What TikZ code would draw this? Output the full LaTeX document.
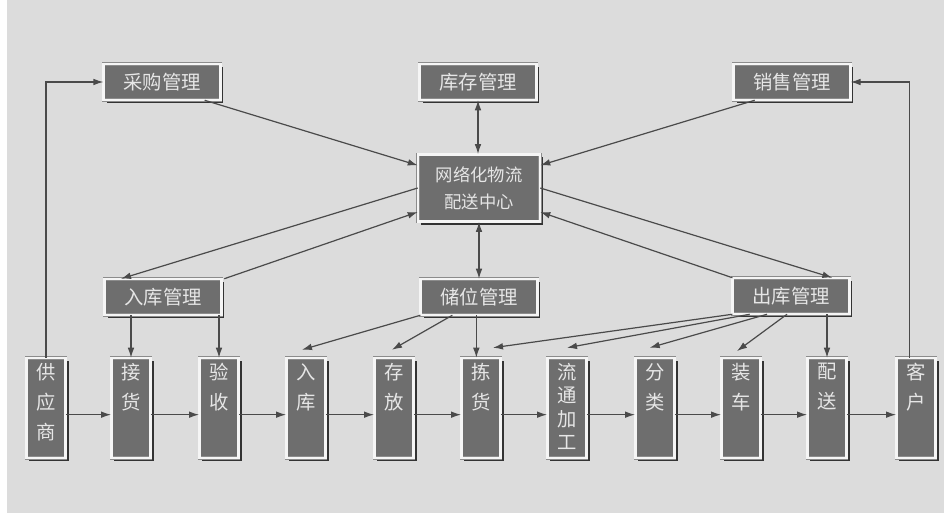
\documentclass[tikz,border=0pt]{standalone}
\usepackage{fontspec}
\newfontfamily\cjk{Noto Sans CJK SC}
\usetikzlibrary{arrows.meta,shadows}
\definecolor{bgcol}{HTML}{DCDCDC}
\definecolor{boxcol}{HTML}{6E6E6E}
\definecolor{txtcol}{HTML}{E6E6E6}
\definecolor{linecol}{HTML}{4A4A4A}
\tikzset{
  panel/.style={rectangle, fill=boxcol, draw=black!45, double=white!96!black,
    double distance=1.8pt, line width=0.4pt, text=txtcol,
    font=\cjk\fontsize{14.5}{17}\selectfont,
    drop shadow={shadow xshift=2.2pt, shadow yshift=-2.2pt, fill=black!80, opacity=1}},
  widebox/.style={panel, minimum width=87.5pt, minimum height=27pt, inner sep=0pt},
  hubbox/.style={panel, minimum width=91.5pt, minimum height=50.5pt, align=center,
    font=\cjk\fontsize{13}{20}\selectfont},
  tallbox/.style={panel, minimum width=29.5pt, minimum height=75pt, inner sep=0pt},
  flow/.style={draw=linecol, line width=0.9pt, -{Latex[length=7.5pt,width=5pt]}},
  twoway/.style={flow, {Latex[length=7.5pt,width=5pt]}-{Latex[length=7.5pt,width=5pt]}}
}
\newcommand{\colchars}[2][22.5pt]{\parbox[c][73pt][t]{22pt}{\centering\baselineskip=#1\vspace*{3pt}#2\par}}
\begin{document}
\begin{tikzpicture}[x=0.75pt, y=-0.75pt]
	\useasboundingbox (0,0) rectangle (944,513);
	\fill[white] (0,0) rectangle (944,513);
	\fill[bgcol] (7,0) rectangle (944,513);

	\node[widebox] (cg) at (162,82) {采购管理};
	\node[widebox] (kc) at (478,82) {库存管理};
	\node[widebox] (xs) at (792,82) {销售管理};

	\node[hubbox] (zx) at (479,188) {网络化物流\\配送中心};

	\node[widebox] (rkgl) at (163,297) {入库管理};
	\node[widebox] (cw) at (479,297) {储位管理};
	\node[widebox] (ck) at (791,296) {出库管理};

	\node[tallbox] (gys) at (46,408) {\colchars{供\\应\\商}};
	\node[tallbox] (jie) at (131,408) {\colchars{接\\货}};
	\node[tallbox] (yan) at (219,408) {\colchars{验\\收}};
	\node[tallbox] (ru) at (306,408) {\colchars{入\\库}};
	\node[tallbox] (cun) at (394,408) {\colchars{存\\放}};
	\node[tallbox] (jian) at (481,408) {\colchars{拣\\货}};
	\node[tallbox] (lt) at (567,408) {\colchars[17.5pt]{流\\通\\加\\工}};
	\node[tallbox] (fl) at (655,408) {\colchars{分\\类}};
	\node[tallbox] (zc) at (741,408) {\colchars{装\\车}};
	\node[tallbox] (ps) at (827,408) {\colchars{配\\送}};
	\node[tallbox] (kh) at (916,408) {\colchars{客\\户}};

	\draw[flow] (gys.north) |- (cg.west);
	\draw[flow] ([xshift=-5pt]kh.north) |- (xs.east);
	\draw[flow] ([xshift=32pt]cg.south) -- ([yshift=17pt]zx.west);
	\draw[flow] ([xshift=-28pt]xs.south) -- ([yshift=17pt]zx.east);
	\draw[twoway] (kc.south) -- (kc.south |- zx.north);

	\draw[flow] (zx.west) -- ([xshift=-31.5pt]rkgl.north);
	\draw[flow] ([xshift=2pt]rkgl.north east) -- ([yshift=-18pt]zx.west);
	\draw[flow] (zx.east) -- ([xshift=31pt]ck.north);
	\draw[flow] (ck.north west) -- ([yshift=-18pt]zx.east);
	\draw[twoway] (zx.south) -- (zx.south |- cw.north);

	\draw[flow] (rkgl.south -| jie.north) -- (jie.north);
	\draw[flow] (rkgl.south -| yan.north) -- (yan.north);
	\draw[flow] ([xshift=-44pt]cw.south) -- ([xshift=-3pt,yshift=6pt]ru.north);
	\draw[flow] ([xshift=-20pt]cw.south) -- ([xshift=-1.5pt,yshift=6pt]cun.north);
	\draw[flow] ([xshift=-2pt]cw.south) -- ([xshift=-2pt]cw.south |- jian.north);
	\draw[flow] (ck.south west) -- ([xshift=9pt,yshift=7.5pt]jian.north);
	\draw[flow] ([xshift=-31pt]ck.south) -- ([yshift=7.5pt]lt.north);
	\draw[flow] ([xshift=-18pt]ck.south) -- ([xshift=-4pt,yshift=7.5pt]fl.north);
	\draw[flow] ([xshift=-3pt]ck.south) -- ([xshift=-3pt,yshift=5pt]zc.north);
	\draw[flow] (ps.north |- ck.south) -- (ps.north);

	\draw[flow] ([yshift=-5pt]gys.east) -- ([yshift=-5pt]jie.west);
	\draw[flow] ([yshift=-5pt]jie.east) -- ([yshift=-5pt]yan.west);
	\draw[flow] ([yshift=-5pt]yan.east) -- ([yshift=-5pt]ru.west);
	\draw[flow] ([yshift=-5pt]ru.east) -- ([yshift=-5pt]cun.west);
	\draw[flow] ([yshift=-5pt]cun.east) -- ([yshift=-5pt]jian.west);
	\draw[flow] ([yshift=-5pt]jian.east) -- ([yshift=-5pt]lt.west);
	\draw[flow] ([yshift=-5pt]lt.east) -- ([yshift=-5pt]fl.west);
	\draw[flow] ([yshift=-5pt]fl.east) -- ([yshift=-5pt]zc.west);
	\draw[flow] ([yshift=-5pt]zc.east) -- ([yshift=-5pt]ps.west);
	\draw[flow] ([yshift=-5pt]ps.east) -- ([yshift=-5pt]kh.west);
\end{tikzpicture}
\end{document}
